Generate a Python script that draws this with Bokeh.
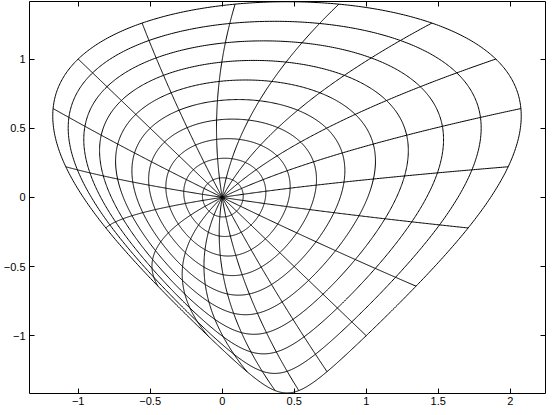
import numpy as np
from bokeh.plotting import figure
from bokeh.models import Range1d, LinearAxis, FixedTicker, CustomJSTickFormatter
from bokeh.embed import file_html
from bokeh.resources import INLINE

# ---- grid in the (p, q) plane: circles and rays ----
radii = [0.1, 0.2, 0.3, 0.4, 0.5, 0.6, 0.7, 0.8, 0.9, 1.0]
ray_angles_deg = [0, 18, 36, 54, 72, 90, 108, 126, 144, 162,
                  180, 198, 216, 234, 252, 270, 288, 306, 324, 342]
# map: x = p - q + quad_coeff * p^2 ,  y = p + q
quad_coeff = 0.9

x_ticks = [-1.0, -0.5, 0.0, 0.5, 1.0, 1.5, 2.0]
x_tick_labels = ["\u22121", "\u22120.5", "0", "0.5", "1", "1.5", "2"]
y_ticks = [-1.0, -0.5, 0.0, 0.5, 1.0]
y_tick_labels = ["\u22121", "\u22120.5", "0", "0.5", "1"]
x_limits = (-1.338, 2.245)
y_limits = (-1.418, 1.416)


def warp(p, q):
    return p - q + quad_coeff * p ** 2, p + q


xs, ys = [], []
th = np.linspace(0, 2 * np.pi, 721)
for r in radii:
    x, y = warp(r * np.cos(th), r * np.sin(th))
    xs.append(x.tolist())
    ys.append(y.tolist())
s = np.linspace(0, radii[-1], 201)
for a in ray_angles_deg:
    ar = np.deg2rad(a)
    x, y = warp(s * np.cos(ar), s * np.sin(ar))
    xs.append(x.tolist())
    ys.append(y.tolist())

p = figure(width=546, height=407, output_backend="svg", toolbar_location=None,
           x_range=Range1d(*x_limits), y_range=Range1d(*y_limits),
           min_border_left=2, min_border_right=1, min_border_top=1, min_border_bottom=2)
p.background_fill_color = "white"
p.border_fill_color = "white"
p.outline_line_color = "black"
p.outline_line_width = 1
p.xgrid.visible = False
p.ygrid.visible = False

p.multi_line(xs, ys, line_color="black", line_width=1.0)

font = "Liberation Sans"
for ax, ticks, labels in ((p.xaxis[0], x_ticks, x_tick_labels),
                          (p.yaxis[0], y_ticks, y_tick_labels)):
    ax.ticker = FixedTicker(ticks=ticks)
    ax.major_label_overrides = dict(zip(ticks, labels))
    ax.major_tick_in = 5
    ax.major_tick_out = 0
    ax.minor_tick_line_color = None
    ax.axis_line_color = None
    ax.major_tick_line_color = "black"
    ax.major_label_text_font = font
    ax.major_label_text_font_size = "11px"
    ax.major_label_text_color = "black"
    ax.major_label_standoff = 4
p.xaxis[0].major_label_standoff = 3

blank = CustomJSTickFormatter(code="return ''")
top = LinearAxis(ticker=FixedTicker(ticks=x_ticks), formatter=blank,
                 major_tick_in=5, major_tick_out=0, minor_tick_line_color=None,
                 axis_line_color=None, major_label_standoff=0,
                 major_label_text_font_size="0px")
right = LinearAxis(ticker=FixedTicker(ticks=y_ticks), formatter=blank,
                   major_tick_in=5, major_tick_out=0, minor_tick_line_color=None,
                   axis_line_color=None, major_label_standoff=0,
                   major_label_text_font_size="0px")
p.add_layout(top, "above")
p.add_layout(right, "right")

open("out.html", "w").write(file_html(p, INLINE))
